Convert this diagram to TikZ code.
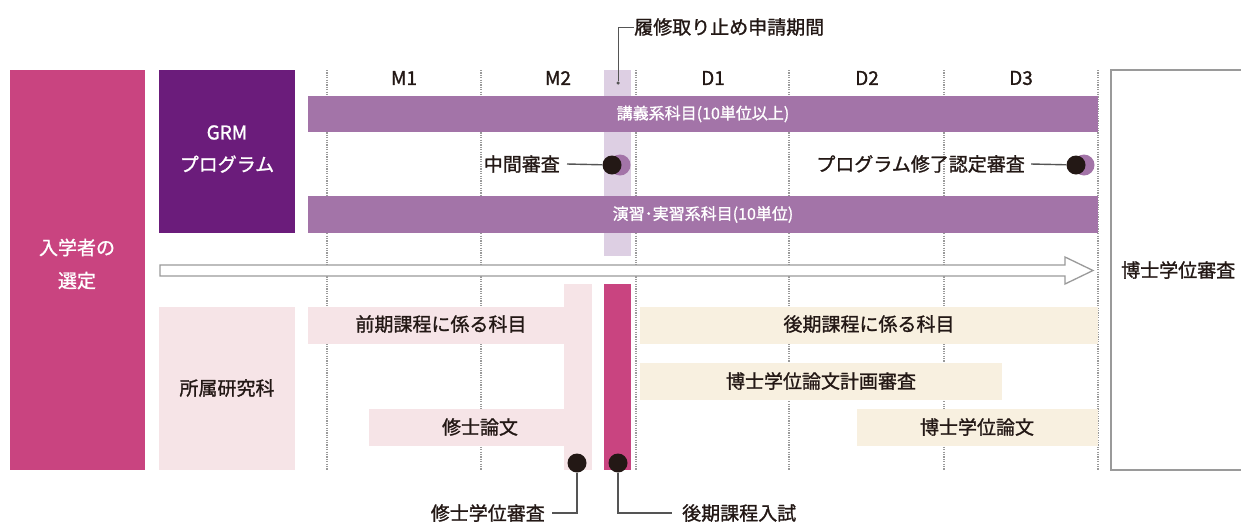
\documentclass[tikz,border=0pt]{standalone}
\usepackage{fontspec}
\setmainfont{Noto Sans CJK JP}
\newfontfamily\medfont{Noto Sans CJK JP}[FakeBold=1.2]
\definecolor{mag}{HTML}{C94480}
\definecolor{grm}{HTML}{6B1C7B}
\definecolor{purp}{HTML}{A374A8}
\definecolor{lpurp}{HTML}{DDCFE3}
\definecolor{lpink}{HTML}{F6E4E7}
\definecolor{beige}{HTML}{F8F0E0}
\definecolor{txt}{HTML}{231815}
\definecolor{grid}{HTML}{9A9A9A}
\definecolor{lead}{HTML}{555555}
\tikzset{
  blk/.style={inner sep=0, outer sep=0, anchor=north west},
  lbl/.style={inner sep=0, font=\medfont\fontsize{19}{22}\selectfont, text=txt},
  wlbl/.style={font=\medfont\fontsize{19}{32}\selectfont, text=white, align=center},
  bartxt/.style={font=\medfont\fontsize{16}{18}\selectfont, text=white},
  gridline/.style={grid, line width=1.3pt, dash pattern=on 1.2pt off 1.2pt},
  leader/.style={lead, line width=1.4pt},
  bdot/.style={circle, fill=txt, inner sep=0, minimum size=19pt},
  pdot/.style={circle, fill=purp, inner sep=0, minimum size=21pt},
}
\begin{document}
\begin{tikzpicture}[x=1pt,y=-1pt]
\useasboundingbox[fill=white] (0,0) rectangle (1241,523);
% grid lines
\foreach \gx in {327,481,636,789,944,1098}
  \draw[gridline] (\gx,70) -- (\gx,470);
% column labels
\foreach \gx/\t in {404/M1,558/M2,713/D1,867/D2,1021/D3}
  \node[lbl] (col\t) at (\gx,78) {\t};
% left boxes
\node[blk, fill=mag, minimum width=135, minimum height=400] (sel) at (10,70) {};
\node[wlbl] (seltxt) at (77,264) {入学者の\\[1pt]選定};
\node[blk, fill=grm, minimum width=136, minimum height=163] (grmbox) at (159,70) {};
\node[wlbl] (grmtxt) at (227,149) {GRM\\プログラム};
\node[blk, fill=lpink, minimum width=136, minimum height=163] (affil) at (159,307) {};
\node[lbl] (affiltxt) at (227,388) {所属研究科};
% withdrawal column
\node[blk, fill=lpurp, minimum width=27, minimum height=186] (wcol) at (604,70) {};
% purple bars
\node[blk, fill=purp, minimum width=790, minimum height=36] (lect) at (308,96) {};
\node[bartxt] (lecttxt) at (703,114) {講義系科目(10単位以上)};
\node[blk, fill=purp, minimum width=790, minimum height=37] (prac) at (308,196) {};
\node[bartxt] (practxt) at (703,214.5) {演習･実習系科目(10単位)};
% withdrawal label
\node[circle, fill=lead, inner sep=0, minimum size=3.5pt] (wdot) at (618,83) {};
\node[lbl, anchor=west] (wlabel) at (634,27) {履修取り止め申請期間};
\draw[lead, line width=1pt] (wdot) |- (wlabel.west);
% interim review
\node[pdot] (p1) at (620,165) {};
\node[bdot] (d1) at (612,165) {};
\node[lbl, anchor=east] (chukan) at (560,164) {中間審査};
\draw[leader] ([xshift=7pt]chukan.east) -- (d1);
% program completion review
\node[pdot] (p2) at (1084,165) {};
\node[bdot] (d2) at (1076,165) {};
\node[lbl, anchor=east] (shuryo) at (1025,164) {プログラム修了認定審査};
\draw[leader] ([xshift=6pt]shuryo.east) -- (d2);
% arrow
\draw[grid, line width=1.3pt, fill=white] (160,265) -- (1065,265) -- (1065,257) -- (1093,270.5) -- (1065,284) -- (1065,276) -- (160,276) -- cycle;
% right box
\draw[grid, line width=1.5pt] (1241,70) -| (1111,470) -- (1241,470);
\node[lbl, anchor=west] (phd) at (1121,270) {博士学位審査};
% first-stage courses
\node[blk, fill=lpink, minimum width=284, minimum height=37] (zenki) at (308,307) {};
\node[lbl] (zenkitxt) at (441,324) {前期課程に係る科目};
\node[blk, fill=lpink, minimum width=223, minimum height=37] (thesisM) at (369,409) {};
\node[lbl] (thesisMtxt) at (480,427) {修士論文};
\node[blk, fill=lpink, minimum width=28, minimum height=186] (mvbar) at (564,284) {};
\node[blk, fill=mag, minimum width=27, minimum height=186] (entr) at (604,284) {};
% second-stage courses
\node[blk, fill=beige, minimum width=458, minimum height=37] (kouki) at (640,307) {};
\node[lbl] (koukitxt) at (869,324) {後期課程に係る科目};
\node[blk, fill=beige, minimum width=362, minimum height=37] (plan) at (640,363) {};
\node[lbl] (plantxt) at (821,381) {博士学位論文計画審査};
\node[blk, fill=beige, minimum width=241, minimum height=37] (thesisD) at (857,409) {};
\node[lbl] (thesisDtxt) at (977,427) {博士学位論文};
% bottom dots and labels
\node[bdot] (d3) at (577,463) {};
\node[bdot] (d4) at (618,463) {};
\node[lbl, anchor=east] (shushi) at (545,513) {修士学位審査};
\node[lbl, anchor=west] (nyushi) at (682,513) {後期課程入試};
\draw[leader] (d3) |- ([xshift=7pt]shushi.east);
\draw[leader] (d4) |- ([xshift=-10pt]nyushi.west);
\end{tikzpicture}
\end{document}
